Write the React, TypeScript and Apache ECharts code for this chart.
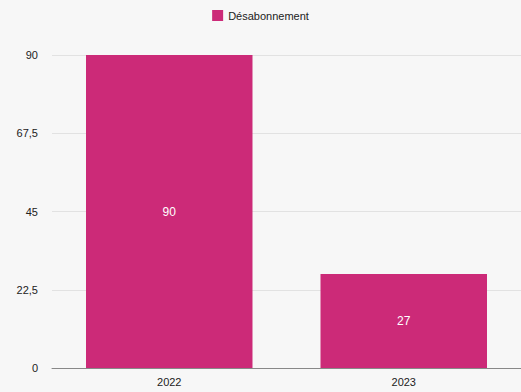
import React, { useEffect, useRef } from "react";
import * as echarts from "echarts";

const categories = ["2022", "2023"];
const seriesName = "Désabonnement";
const values = [90, 27];
const yTicks = [0, 22.5, 45, 67.5, 90];

export default function App() {
  const ref = useRef<HTMLDivElement>(null);
  useEffect(() => {
    if (!ref.current) return;
    const chart = echarts.init(ref.current, null, { renderer: "svg" });
    const fmt = (v: number) => String(v).replace(".", ",");
    chart.setOption({
      animation: false,
      backgroundColor: "#f7f7f7",
      textStyle: { fontFamily: "Liberation Sans, Arial, sans-serif" },
      legend: {
        top: 5,
        left: "center",
        itemWidth: 11,
        itemHeight: 11,
        itemGap: 10,
        icon: "rect",
        textStyle: { fontSize: 11, color: "#222" },
        data: [seriesName],
      },
      grid: { left: 52, right: 0, top: 55, bottom: 24, containLabel: false },
      xAxis: {
        type: "category",
        data: categories,
        axisLine: { lineStyle: { color: "#888", width: 1 } },
        axisTick: { show: false },
        axisLabel: { color: "#222", fontSize: 11, margin: 8 },
      },
      yAxis: {
        type: "value",
        min: yTicks[0],
        max: yTicks[yTicks.length - 1],
        interval: yTicks[1] - yTicks[0],
        axisLine: { show: false },
        axisTick: { show: false },
        axisLabel: { color: "#222", fontSize: 11, margin: 14, formatter: fmt },
        splitLine: { lineStyle: { color: "#e2e2e2", width: 1 } },
      },
      series: [
        {
          name: seriesName,
          type: "bar",
          data: values,
          barCategoryGap: "29%",
          itemStyle: { color: "#cc2a78" },
          label: { show: true, position: "inside", color: "#fff", fontSize: 12, formatter: (p: any) => fmt(p.value) },
        },
      ],
    });
    return () => chart.dispose();
  }, []);
  return <div ref={ref} style={{ position: "fixed", left: 0, top: 0, width: 521, height: 392 }} />;
}
